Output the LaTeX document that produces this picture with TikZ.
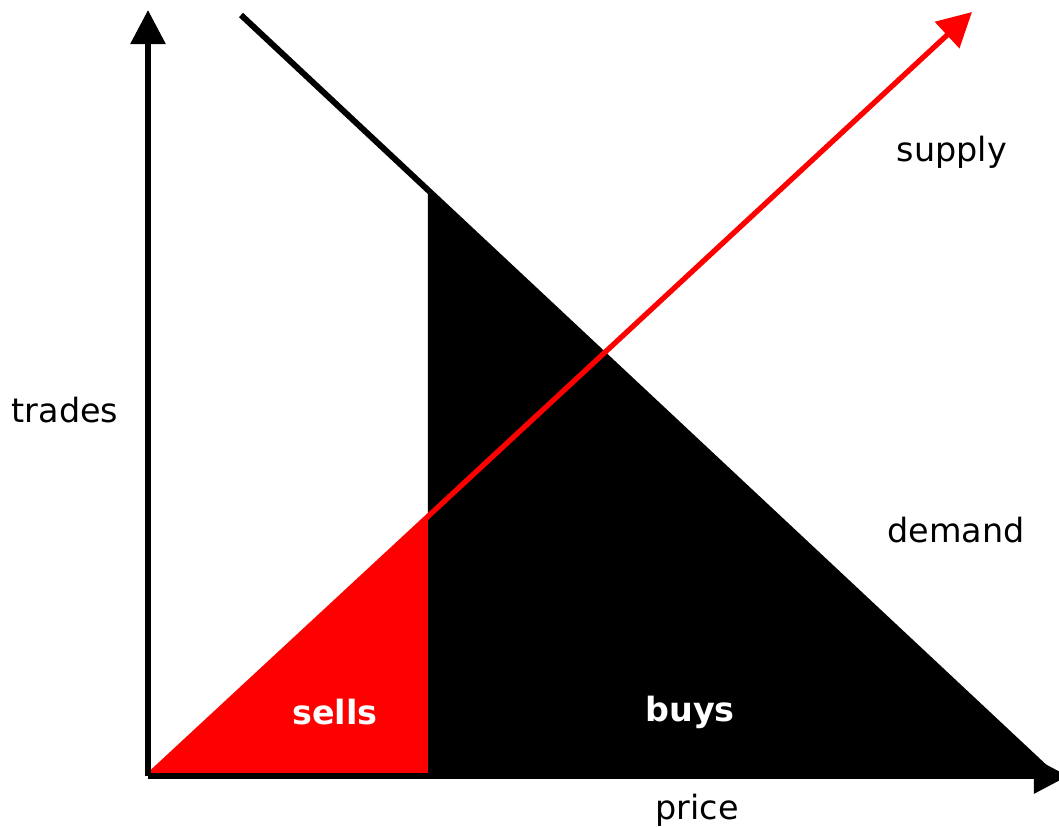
\documentclass[tikz,border=0pt]{standalone}
\usepackage{fontspec}
\setmainfont{DejaVu Sans}
\usetikzlibrary{arrows.meta}

\begin{document}
\begin{tikzpicture}[x=0.01cm, y=-0.01cm,
    axis/.style={line width=1.7pt, -{Triangle[width=0.34cm, length=0.34cm]}},
    lbl/.style={font=\fontsize{9.5}{11}\selectfont, inner sep=0pt},
    inlbl/.style={lbl, text=white, font=\fontsize{9.5}{11}\selectfont\bfseries}]

    \useasboundingbox (0,0) rectangle (1059,827);

    % --------------------------
    % points
    % --------------------------
    \coordinate (O) at (148,776);
    \coordinate (ytop) at (148,10);
    \coordinate (xend) at (1068,776);
    \coordinate (dstart) at (241,15);
    \coordinate (dend) at (1054,776);
    \coordinate (cuttop) at (428,190);
    \coordinate (cutmid) at (428,516);
    \coordinate (cutbot) at (428,776);
    \coordinate (stip) at (972,12);

    % areas
    \fill[black] (cuttop) -- (dend) -- (cutbot) -- cycle;
    \fill[red] (O) -- (cutmid) -- (cutbot) -- cycle;

    % demand
    \draw[line width=1.7pt] (dstart) -- (dend);

    % supply
    \draw[red, line width=1.5pt, -{Triangle[width=0.35cm, length=0.34cm]}] (O) -- (stip);

    % axes
    \draw[axis] (O) -- (ytop);
    \draw[axis] (O) -- (xend);

    % --------------------------
    % labels
    % --------------------------
    \node[lbl] (trades) at (65,410) {trades};
    \node[lbl] (price) at (697,810) {price};
    \node[lbl] (supply) at (952,152) {supply};
    \node[lbl] (demand) at (956,530) {demand};
    \node[inlbl] (sells) at (335,712) {sells};
    \node[inlbl] (buys) at (690,712) {buys};

\end{tikzpicture}
\end{document}
